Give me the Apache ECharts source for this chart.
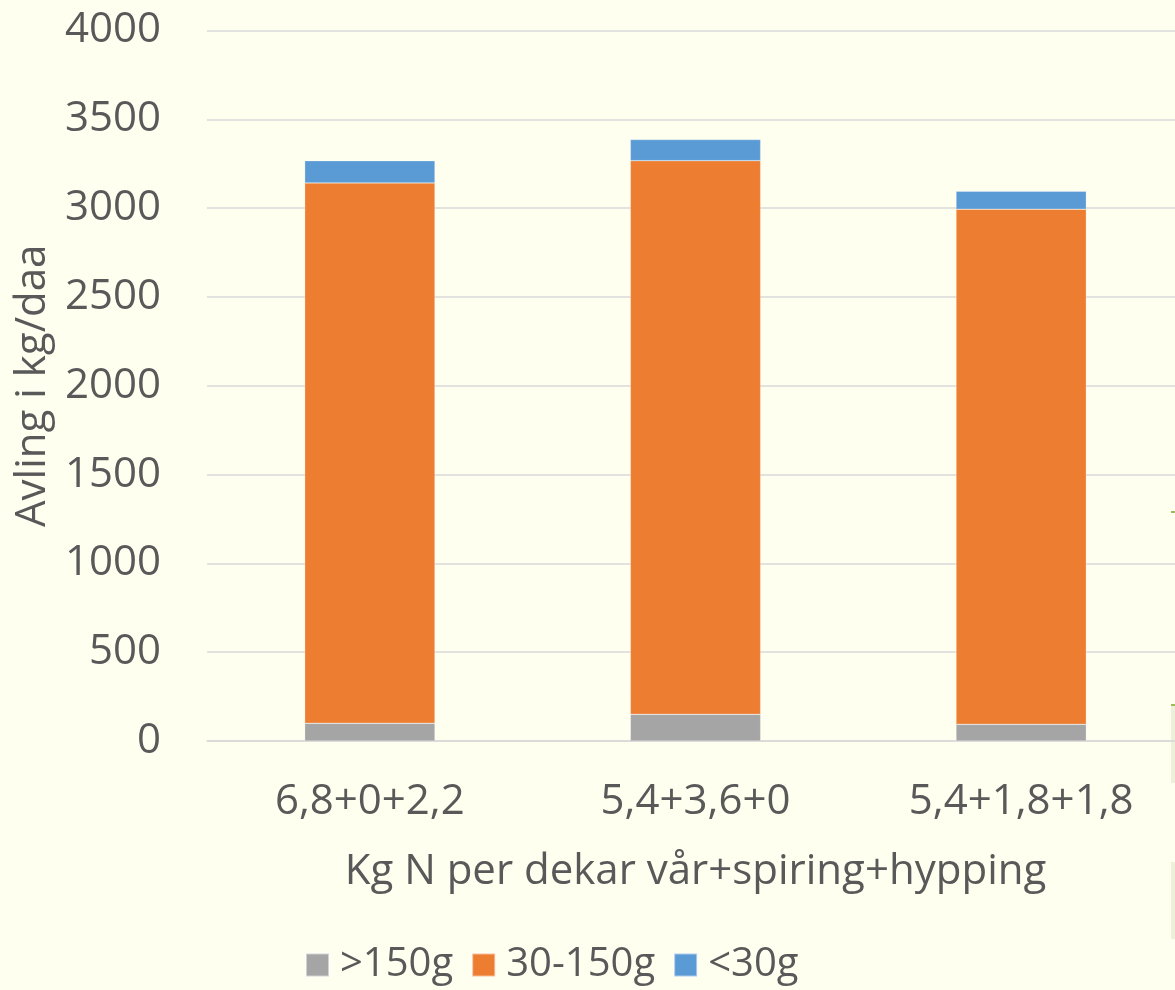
<!DOCTYPE html>
<html>
<head>
<meta charset="utf-8">
<script src="https://cdn.jsdelivr.net/npm/echarts@6/dist/echarts.min.js"></script>
<style>
  html, body { margin: 0; padding: 0; background: #FFFFF0; }
  #chart { width: 1175px; height: 990px; }
</style>
</head>
<body>
<div id="chart"></div>
<script>
// Yield per size class (kg/daa) for three nitrogen split strategies
const categories = ['6,8+0+2,2', '5,4+3,6+0', '5,4+1,8+1,8'];
const large  = [100, 150, 94];     // >150g
const medium = [3042, 3117, 2900]; // 30-150g
const small  = [125, 119, 101];    // <30g
const yTicks = { min: 0, max: 4000, interval: 500 };

const textColor = '#595959';
const fontFamily = '"Open Sans", "Liberation Sans", sans-serif';
const fontSize = 42;

const chart = echarts.init(document.getElementById('chart'));

function seriesOf(name, data, color) {
  return {
    name: name,
    type: 'bar',
    stack: 'total',
    data: data,
    barWidth: '40%',
    itemStyle: { color: color, borderColor: 'rgba(255,255,255,0.5)', borderWidth: 0.5 },
    emphasis: { disabled: true }
  };
}

chart.setOption({
  backgroundColor: '#FFFFF0',
  animation: false,
  textStyle: { fontFamily: fontFamily, color: textColor },
  grid: {
    left: 207, width: 977, top: 30.5, bottom: 249,
    containLabel: false, outerBoundsMode: 'none'
  },
  legend: {
    bottom: 0,
    left: 300,
    itemWidth: 23,
    itemHeight: 23,
    itemGap: 18,
    icon: 'rect',
    textStyle: { fontSize: 40, color: textColor, fontFamily: fontFamily, padding: [0, 0, 0, 6] },
    data: ['>150g', '30-150g', '<30g']
  },
  xAxis: {
    type: 'category',
    data: categories,
    name: 'Kg N per dekar vår+spiring+hypping',
    nameLocation: 'middle',
    nameGap: 110,
    nameTextStyle: { fontSize: fontSize, color: textColor, fontFamily: fontFamily },
    axisLine: { show: true, lineStyle: { color: '#D9D9D9', width: 1.5 } },
    axisTick: { show: false },
    axisLabel: { fontSize: fontSize, color: textColor, margin: 40, fontFamily: fontFamily }
  },
  yAxis: {
    type: 'value',
    min: yTicks.min,
    max: yTicks.max,
    interval: yTicks.interval,
    name: 'Avling i kg/daa',
    nameLocation: 'middle',
    nameRotate: 90,
    nameGap: 143,
    nameTextStyle: { fontSize: fontSize, color: textColor, fontFamily: fontFamily },
    axisLine: { show: false },
    axisTick: { show: false },
    axisLabel: {
      fontSize: fontSize, color: textColor, margin: 46, fontFamily: fontFamily,
      formatter: function (v) { return String(v); }
    },
    splitLine: { lineStyle: { color: '#D9D9D9', width: 1.5 } }
  },
  // thin edge of a neighbouring frame along the right border
  graphic: [
    { type: 'rect', right: 0, top: 511, shape: { width: 4, height: 2 }, style: { fill: '#9BBB59' } },
    { type: 'rect', right: 0, top: 704, shape: { width: 4, height: 2 }, style: { fill: '#9BBB59' } },
    { type: 'rect', right: 0, top: 706, shape: { width: 4, height: 77 }, style: { fill: '#EDF1DA' } },
    { type: 'rect', right: 0, top: 862, shape: { width: 4, height: 77 }, style: { fill: '#EDF1DA' } }
  ],
  series: [
    seriesOf('>150g', large, '#A5A5A5'),
    seriesOf('30-150g', medium, '#ED7D31'),
    seriesOf('<30g', small, '#5B9BD5')
  ]
});
</script>
</body>
</html>
